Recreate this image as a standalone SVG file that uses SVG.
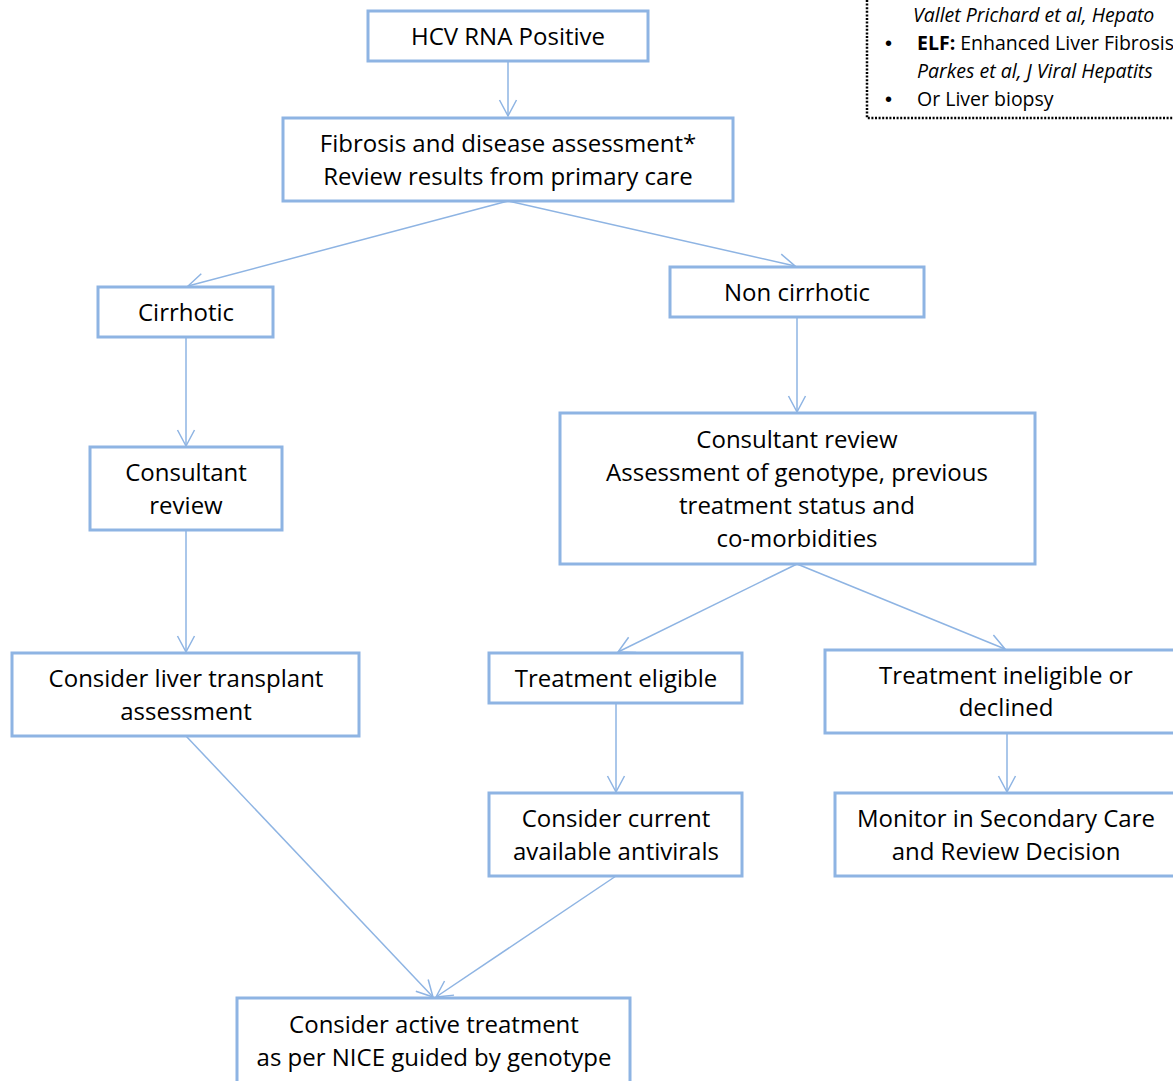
<svg xmlns="http://www.w3.org/2000/svg" width="1173" height="1081" viewBox="0 0 1173 1081">
<style>
.box{fill:#fff;stroke:#8eb4e3;stroke-width:3}
.t{font-family:"Open Sans","Liberation Sans",sans-serif;font-size:24px;fill:#000;text-anchor:middle}
.n{font-family:"Open Sans","Liberation Sans",sans-serif;font-size:19.5px;fill:#000}
.b{font-family:"Liberation Sans",sans-serif;font-size:20px;fill:#000}
.c{fill:none;stroke:#8eb4e3;stroke-width:1.5}
</style>
<defs>
<marker id="arr" viewBox="0 0 20 20" refX="18" refY="10" markerWidth="20" markerHeight="20" markerUnits="userSpaceOnUse" orient="auto">
<path d="M2,1.5 L18,10 L2,18.5" fill="none" stroke="#8eb4e3" stroke-width="1.5"/>
</marker>
</defs>
<rect width="1173" height="1081" fill="#fff"/>
<g id="notes">
<path d="M867,0 V118 H1173" fill="none" stroke="#000" stroke-width="2.5" stroke-dasharray="2 1.6"/>
<text class="n" x="913" y="22" font-style="italic">Vallet Prichard et al, Hepato</text>
<text class="b" x="885" y="50">•</text>
<text class="n" x="917" y="50"><tspan font-weight="bold">ELF:</tspan> Enhanced Liver Fibrosis</text>
<text class="n" x="917" y="78" font-style="italic">Parkes et al, J Viral Hepatits</text>
<text class="b" x="885" y="106">•</text>
<text class="n" x="917" y="106">Or Liver biopsy</text>
</g>
<g id="connectors">
<line class="c" x1="508" y1="61" x2="508" y2="116" marker-end="url(#arr)"/>
<line class="c" x1="508" y1="201" x2="188" y2="286" marker-end="url(#arr)"/>
<line class="c" x1="508" y1="201" x2="795" y2="266" marker-end="url(#arr)"/>
<line class="c" x1="186" y1="337" x2="186" y2="446" marker-end="url(#arr)"/>
<line class="c" x1="797" y1="317" x2="797" y2="412" marker-end="url(#arr)"/>
<line class="c" x1="186" y1="530" x2="186" y2="652" marker-end="url(#arr)"/>
<line class="c" x1="797" y1="564" x2="618" y2="652" marker-end="url(#arr)"/>
<line class="c" x1="797" y1="564" x2="1005" y2="649" marker-end="url(#arr)"/>
<line class="c" x1="616" y1="703" x2="616" y2="792" marker-end="url(#arr)"/>
<line class="c" x1="1007" y1="733" x2="1007" y2="792" marker-end="url(#arr)"/>
<line class="c" x1="186" y1="736" x2="433" y2="997" marker-end="url(#arr)"/>
<line class="c" x1="616" y1="876" x2="436" y2="997" marker-end="url(#arr)"/>
</g>
<g id="hcv"><rect class="box" x="368" y="11" width="280" height="50"/><text class="t" x="508" y="45">HCV RNA Positive</text></g>
<g id="fibrosis"><rect class="box" x="283" y="118" width="450" height="83"/><text class="t" x="508" y="152">Fibrosis and disease assessment*</text><text class="t" x="508" y="185">Review results from primary care</text></g>
<g id="cirrhotic"><rect class="box" x="98" y="287" width="175" height="50"/><text class="t" x="186" y="321">Cirrhotic</text></g>
<g id="noncirrhotic"><rect class="box" x="670" y="267" width="254" height="50"/><text class="t" x="797" y="301">Non cirrhotic</text></g>
<g id="consultant-left"><rect class="box" x="90" y="447" width="192" height="83"/><text class="t" x="186" y="481">Consultant</text><text class="t" x="186" y="514">review</text></g>
<g id="consultant-right"><rect class="box" x="560" y="413" width="475" height="151"/><text class="t" x="797" y="448">Consultant review</text><text class="t" x="797" y="481">Assessment of genotype, previous</text><text class="t" x="797" y="514">treatment status and</text><text class="t" x="797" y="547">co-morbidities</text></g>
<g id="transplant"><rect class="box" x="12" y="653" width="347" height="83"/><text class="t" x="186" y="687">Consider liver transplant</text><text class="t" x="186" y="720">assessment</text></g>
<g id="eligible"><rect class="box" x="489" y="653" width="253" height="50"/><text class="t" x="616" y="687">Treatment eligible</text></g>
<g id="ineligible"><rect class="box" x="825" y="650" width="362" height="83"/><text class="t" x="1006" y="684">Treatment ineligible or</text><text class="t" x="1006" y="716">declined</text></g>
<g id="antivirals"><rect class="box" x="489" y="793" width="253" height="83"/><text class="t" x="616" y="827">Consider current</text><text class="t" x="616" y="860">available antivirals</text></g>
<g id="monitor"><rect class="box" x="835" y="793" width="342" height="83"/><text class="t" x="1006" y="827">Monitor in Secondary Care</text><text class="t" x="1006" y="860">and Review Decision</text></g>
<g id="active"><rect class="box" x="237" y="998" width="393" height="90"/><text class="t" x="434" y="1033">Consider active treatment</text><text class="t" x="434" y="1066">as per NICE guided by genotype</text></g>
</svg>
